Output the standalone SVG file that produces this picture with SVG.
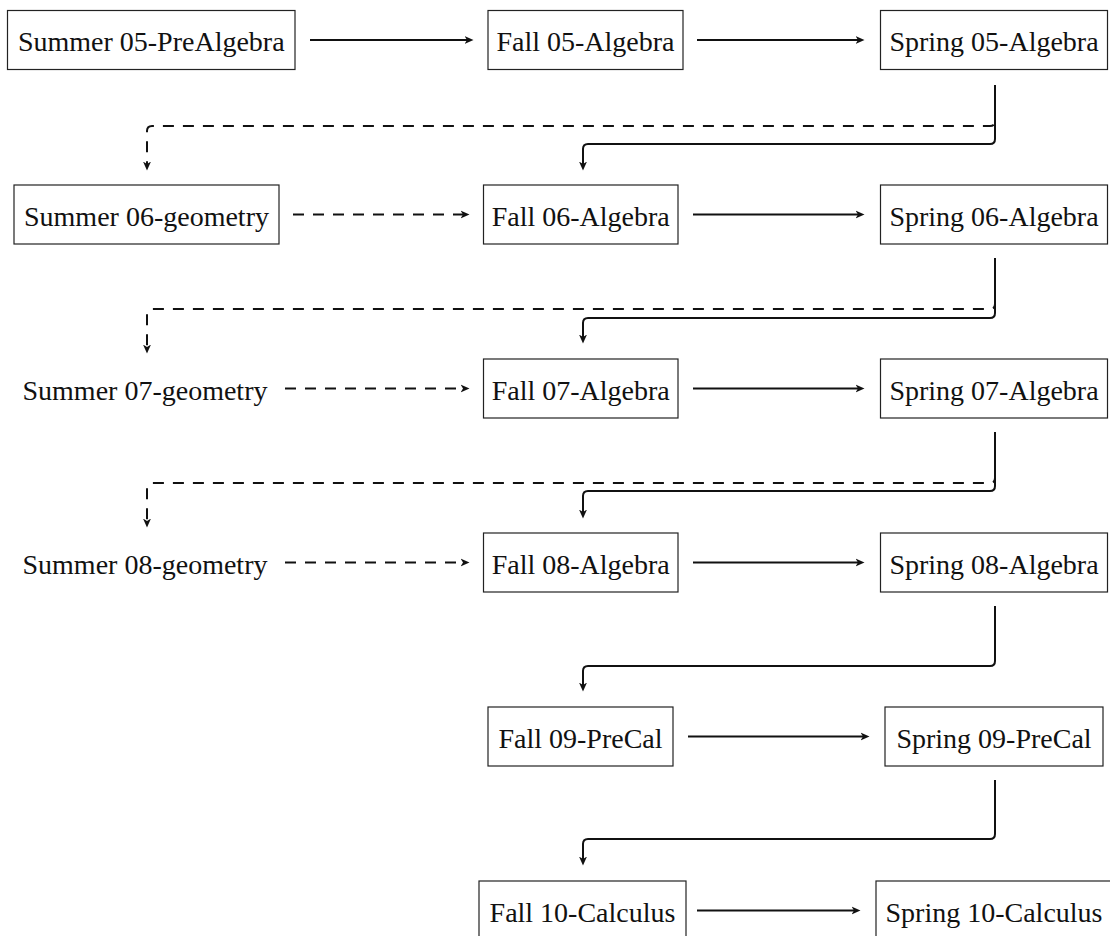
<svg xmlns="http://www.w3.org/2000/svg" width="1110" height="936" viewBox="0 0 1110 936">
<style>
.box{fill:#fff;stroke:#222;stroke-width:1.2}
.t{font-family:"Liberation Serif","DejaVu Serif",serif;font-size:28px;fill:#111;text-anchor:middle}
.s{fill:none;stroke:#111;stroke-width:2}
.d{fill:none;stroke:#111;stroke-width:2;stroke-dasharray:11 9}
</style>
<defs>
<marker id="arr" viewBox="0 -5 10 10" refX="2.5" refY="0" markerWidth="10" markerHeight="10" markerUnits="userSpaceOnUse" orient="auto">
<path d="M0,-4 L9,0 L0,4 L2.5,0 Z" fill="#111" stroke="none"/>
</marker>
</defs>
<rect width="1110" height="936" fill="#fff"/>
<g id="connectors">
<path class="s" d="M310,40 H467" marker-end="url(#arr)"/>
<path class="s" d="M697,40 H858" marker-end="url(#arr)"/>
<path class="d" d="M293,214.5 H463" marker-end="url(#arr)"/>
<path class="s" d="M693,214.5 H858" marker-end="url(#arr)"/>
<path class="d" d="M285,388.5 H463" marker-end="url(#arr)"/>
<path class="s" d="M693,388.5 H858" marker-end="url(#arr)"/>
<path class="d" d="M285,562.5 H463" marker-end="url(#arr)"/>
<path class="s" d="M693,562.5 H858" marker-end="url(#arr)"/>
<path class="s" d="M688,736.5 H863" marker-end="url(#arr)"/>
<path class="s" d="M697,910.5 H854" marker-end="url(#arr)"/>
<path class="d" d="M995,85 V121 Q995,126 990,126 H152 Q147,126 147,131 V164" marker-end="url(#arr)"/>
<path class="s" d="M995,85 V139 Q995,144 990,144 H588 Q583,144 583,149 V164" marker-end="url(#arr)"/>
<path class="d" d="M995,258 V304 Q995,309 990,309 H152 Q147,309 147,314 V347" marker-end="url(#arr)"/>
<path class="s" d="M995,258 V313 Q995,318 990,318 H588 Q583,318 583,323 V337" marker-end="url(#arr)"/>
<path class="d" d="M995,432 V478 Q995,483 990,483 H152 Q147,483 147,488 V521" marker-end="url(#arr)"/>
<path class="s" d="M995,432 V486 Q995,491 990,491 H588 Q583,491 583,496 V512" marker-end="url(#arr)"/>
<path class="s" d="M995,606 V661 Q995,666 990,666 H588 Q583,666 583,671 V685" marker-end="url(#arr)"/>
<path class="s" d="M995,780 V834 Q995,839 990,839 H588 Q583,839 583,844 V859" marker-end="url(#arr)"/>
</g>
<g id="summer05"><rect class="box" x="7.5" y="10.5" width="287.5" height="59"/><text class="t" x="151.25" y="51">Summer 05-PreAlgebra</text></g>
<g id="fall05"><rect class="box" x="488" y="10.5" width="195" height="59"/><text class="t" x="585.5" y="51">Fall 05-Algebra</text></g>
<g id="spring05"><rect class="box" x="880.5" y="10.5" width="227" height="59"/><text class="t" x="994" y="51">Spring 05-Algebra</text></g>
<g id="summer06"><rect class="box" x="14" y="185" width="265" height="59"/><text class="t" x="146.5" y="225.5">Summer 06-geometry</text></g>
<g id="fall06"><rect class="box" x="483.5" y="185" width="194.5" height="59"/><text class="t" x="580.75" y="225.5">Fall 06-Algebra</text></g>
<g id="spring06"><rect class="box" x="880.5" y="185" width="227" height="59"/><text class="t" x="994" y="225.5">Spring 06-Algebra</text></g>
<g id="summer07"><text class="t" x="145" y="399.5">Summer 07-geometry</text></g>
<g id="fall07"><rect class="box" x="483.5" y="359" width="194.5" height="59"/><text class="t" x="580.75" y="399.5">Fall 07-Algebra</text></g>
<g id="spring07"><rect class="box" x="880.5" y="359" width="227" height="59"/><text class="t" x="994" y="399.5">Spring 07-Algebra</text></g>
<g id="summer08"><text class="t" x="145" y="573.5">Summer 08-geometry</text></g>
<g id="fall08"><rect class="box" x="483.5" y="533" width="194.5" height="59"/><text class="t" x="580.75" y="573.5">Fall 08-Algebra</text></g>
<g id="spring08"><rect class="box" x="880.5" y="533" width="227" height="59"/><text class="t" x="994" y="573.5">Spring 08-Algebra</text></g>
<g id="fall09"><rect class="box" x="488" y="707" width="185" height="59"/><text class="t" x="580.5" y="747.5">Fall 09-PreCal</text></g>
<g id="spring09"><rect class="box" x="885" y="707" width="218" height="59"/><text class="t" x="994" y="747.5">Spring 09-PreCal</text></g>
<g id="fall10"><rect class="box" x="479" y="881" width="207" height="59"/><text class="t" x="582.5" y="921.5">Fall 10-Calculus</text></g>
<g id="spring10"><rect class="box" x="876" y="881" width="236" height="59"/><text class="t" x="994" y="921.5">Spring 10-Calculus</text></g>
</svg>
